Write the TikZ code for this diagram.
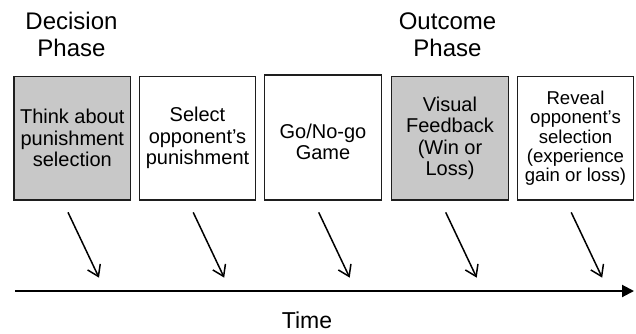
\documentclass[tikz,border=0pt]{standalone}
\usepackage{fontspec}
\setmainfont{Liberation Sans}
\usetikzlibrary{arrows.meta}
\definecolor{stagegray}{RGB}{200,200,200}
\definecolor{edgeblack}{RGB}{30,30,30}
\tikzset{
  stage/.style={draw=edgeblack, line width=1.2pt, fill=white, inner sep=0pt,
    minimum width=116.5pt, minimum height=123.5pt, align=center,
    font=\fontsize{20}{21.5}\selectfont},
  shaded/.style={fill=stagegray},
  stagetext/.style={inner sep=0pt, align=center, font=\fontsize{20}{21.7}\selectfont},
  phase/.style={anchor=south, inner sep=0pt, align=center,
    font=\fontsize{24}{26.7}\selectfont},
  onset/.style={line width=1.5pt, -{Straight Barb[length=10.5pt,width=14pt,line width=1.5pt]}},
  timeline/.style={line width=2pt, -{Triangle[length=12pt,width=12pt]}}
}
\begin{document}
\begin{tikzpicture}[x=1pt,y=-1pt]
\useasboundingbox (0,0) rectangle (636,334);

% phase headings
\node[phase] (dec) at (71.5,56.7) {Decision\\Phase};
\node[phase] (out) at (447.5,56.7) {Outcome\\Phase};

% trial stages
\node[stage,shaded] (b1) at (72.3,138.3) {Think about\\punishment\\selection};
\node[stage] (b2) at (197.5,138.3) {Select\\opponent's\\punishment};
\node[stage,minimum height=125pt] (b3) at (323,137.5) {};
\node[stagetext] (b3t) at (323,141.8) {Go/No-go\\Game};
\node[stage,shaded] (b4) at (450,138.3) {Visual\\Feedback\\(Win or\\Loss)};
\node[stage,font=\fontsize{18.6}{19.3}\selectfont] (b5) at (575.5,138.3)
  {Reveal\\opponent's\\selection\\(experience\\gain or loss)};

% onset markers pointing to the time axis
\foreach \b in {b1,b2,b4,b5}{
  \coordinate (\b s) at ([xshift=-4.3pt,yshift=-11.7pt]\b.south);
  \coordinate (\b e) at ([xshift=26.7pt,yshift=-77pt]\b.south);
  \draw[onset] (\b s) -- (\b e);
}
\coordinate (b3s) at ([xshift=-4.3pt,yshift=-11.7pt]b2.south -| b3.south);
\coordinate (b3e) at ([xshift=26.7pt,yshift=-77pt]b2.south -| b3.south);
\draw[onset] (b3s) -- (b3e);

% time axis
\coordinate (t0) at (15,291);
\coordinate (t1) at (634,291);
\draw[timeline] (t0) -- (t1);
\node[anchor=base, inner sep=0pt, font=\fontsize{23}{26}\selectfont] (time) at (307,328.3) {Time};
\end{tikzpicture}
\end{document}
